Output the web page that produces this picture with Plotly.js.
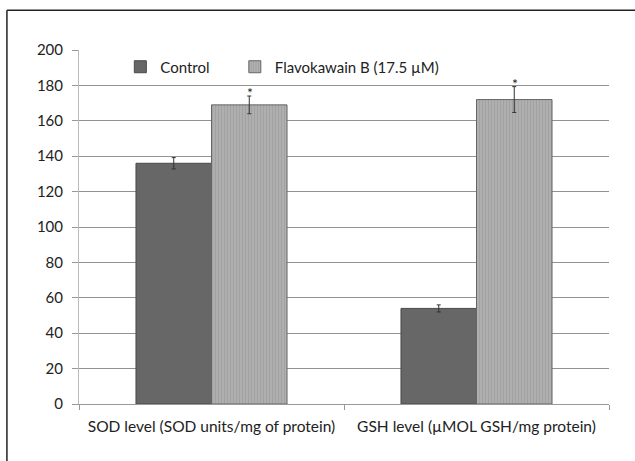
<!DOCTYPE html>
<html>
<head>
<meta charset="utf-8">
<script src="https://cdn.plot.ly/plotly-3.0.1.min.js"></script>
<style>
html,body{margin:0;padding:0;background:#fff;}
#chart{width:635px;height:461px;}
</style>
</head>
<body>
<div id="chart"></div>
<script>
const categories = ["SOD level (SOD units/mg of protein)", "GSH level (µMOL GSH/mg protein)"];
const controlValues = [136, 54];
const controlErrors = [3.2, 2];
const flavoValues = [169, 172];
const flavoErrors = [5, 7.3];
const significance = ["*", "*"];
const seriesNames = ["Control", "Flavokawain B (17.5 µM)"];
const yTicks = [0, 20, 40, 60, 80, 100, 120, 140, 160, 180, 200];

const font = "Lato, 'Open Sans', sans-serif";

const traces = [
  {
    type: "bar", name: seriesNames[0], x: categories, y: controlValues, legend: "legend",
    marker: {color: "#676767", line: {color: "#4a4a4a", width: 1}},
    error_y: {type: "data", array: controlErrors, visible: true, color: "#333", thickness: 1, width: 2}
  },
  {
    type: "bar", name: seriesNames[1], x: categories, y: flavoValues, legend: "legend2",
    marker: {color: "#ababab", line: {color: "#666", width: 1},
      pattern: {shape: "|", bgcolor: "#afafaf", fgcolor: "#a0a0a0", size: 3, solidity: 0.3}},
    error_y: {type: "data", array: flavoErrors, visible: true, color: "#333", thickness: 1, width: 2}
  }
];

const annotations = categories.map((c, i) => ({
  x: c, y: flavoValues[i] + flavoErrors[i], xref: "x", yref: "y",
  text: significance[i], showarrow: false, xshift: 38, yanchor: "bottom", yshift: -7,
  font: {family: font, size: 14, color: "#222"}
}));

const legendStyle = (x) => ({
  orientation: "h", x: x, y: 0.952, xanchor: "left", yanchor: "middle",
  font: {family: font, size: 15, color: "#222"}, bgcolor: "rgba(0,0,0,0)", itemwidth: 30
});

const layout = {
  width: 635, height: 461,
  margin: {l: 79, r: 26, t: 50, b: 57},
  paper_bgcolor: "#fff", plot_bgcolor: "#fff",
  font: {family: font, size: 15, color: "#222"},
  barmode: "group", bargap: 0.43, bargroupgap: 0,
  showlegend: true,
  legend: legendStyle(0.078),
  legend2: legendStyle(0.294),
  xaxis: {type: "category", showgrid: false, showline: true, linecolor: "#999", linewidth: 1,
    ticks: "outside", tickson: "boundaries", ticklen: 5, tickcolor: "#999", ticklabelstandoff: 8,
    tickfont: {family: font, size: 15.5, color: "#222"}},
  yaxis: {range: [0, 200], tickvals: yTicks, showgrid: true, gridcolor: "#929292", gridwidth: 1,
    showline: true, linecolor: "#bbb", linewidth: 1, ticks: "outside", ticklen: 6, tickcolor: "#999",
    ticklabelstandoff: 6,
    zeroline: false, tickfont: {family: font, size: 15, color: "#222"}},
  annotations: annotations,
  shapes: [
    {type: "line", xref: "paper", yref: "paper", x0: -0.136, x1: 1.1, y0: 1.112, y1: 1.112, line: {color: "#222", width: 1.5}},
    {type: "line", xref: "paper", yref: "paper", x0: -0.136, x1: -0.136, y0: 1.112, y1: -0.2, line: {color: "#222", width: 1.5}}
  ]
};

Plotly.newPlot("chart", traces, layout, {displayModeBar: false, staticPlot: true});
</script>
</body>
</html>
